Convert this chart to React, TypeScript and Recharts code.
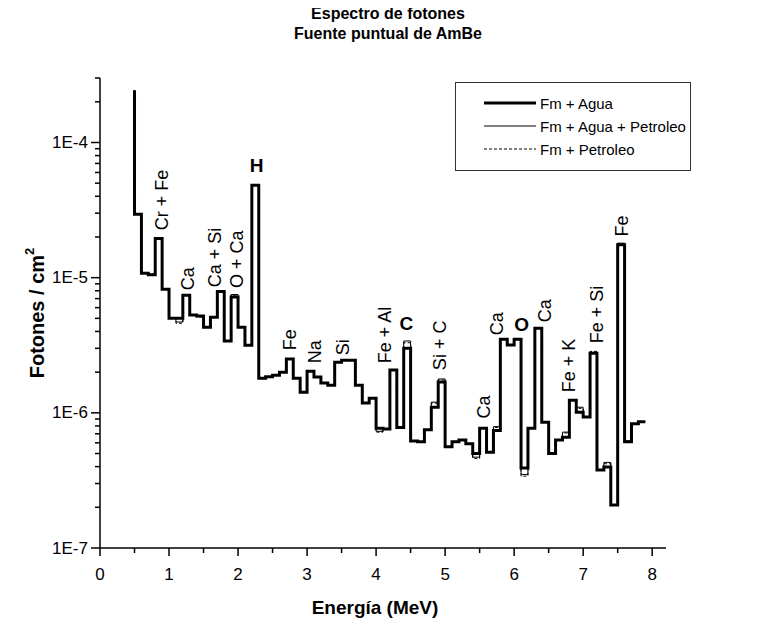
import React from "react";
import { LineChart, Line, XAxis, YAxis, Legend, ReferenceDot, Label } from "recharts";

const FONT = "'Liberation Sans', Arial, Helvetica, sans-serif";

// Bin upper edges (MeV); step plot drawn "stepBefore"
const energia = [0.5, 0.6, 0.7, 0.8, 0.9, 1.0, 1.1, 1.2, 1.3, 1.4, 1.5, 1.6, 1.7, 1.8, 1.9, 2.0, 2.1, 2.2, 2.3, 2.4, 2.5, 2.6, 2.7, 2.8, 2.9, 3.0, 3.1, 3.2, 3.3, 3.4, 3.5, 3.6, 3.7, 3.8, 3.9, 4.0, 4.1, 4.2, 4.3, 4.4, 4.5, 4.6, 4.7, 4.8, 4.9, 5.0, 5.1, 5.2, 5.3, 5.4, 5.5, 5.6, 5.7, 5.8, 5.9, 6.0, 6.1, 6.2, 6.3, 6.4, 6.5, 6.6, 6.7, 6.8, 6.9, 7.0, 7.1, 7.2, 7.3, 7.4, 7.5, 7.6, 7.7, 7.8, 7.9];

const fmAgua = [2.43e-4, 2.94e-5, 1.08e-5, 1.05e-5, 1.95e-5, 8.2e-6, 5.0e-6, 5.0e-6, 7.4e-6, 5.3e-6, 5.2e-6, 4.3e-6, 5.1e-6, 7.9e-6, 3.4e-6, 7.2e-6, 4.3e-6, 3.16e-6, 4.82e-5, 1.8e-6, 1.85e-6, 1.9e-6, 2.0e-6, 2.5e-6, 1.8e-6, 1.42e-6, 2.03e-6, 1.84e-6, 1.66e-6, 1.6e-6, 2.37e-6, 2.45e-6, 2.45e-6, 1.6e-6, 1.18e-6, 1.28e-6, 7.7e-7, 7.6e-7, 2.07e-6, 7.8e-7, 3.0e-6, 6.2e-7, 6.1e-7, 7.5e-7, 1.1e-6, 1.69e-6, 5.6e-7, 6.1e-7, 6.3e-7, 5.9e-7, 5.0e-7, 7.7e-7, 5.1e-7, 7.4e-7, 3.5e-6, 3.17e-6, 3.5e-6, 3.9e-7, 7.7e-7, 4.23e-6, 8.5e-7, 5.0e-7, 6.3e-7, 6.6e-7, 1.24e-6, 1.01e-6, 9.3e-7, 2.76e-6, 3.77e-7, 3.97e-7, 2.08e-7, 1.75e-5, 6.1e-7, 8.3e-7, 8.6e-7];

const fmAguaPetroleo = [2.43e-4, 2.94e-5, 1.08e-5, 1.06e-5, 1.95e-5, 8.2e-6, 5.0e-6, 4.7e-6, 7.4e-6, 5.3e-6, 5.2e-6, 4.3e-6, 5.1e-6, 7.9e-6, 3.4e-6, 7.5e-6, 4.3e-6, 3.16e-6, 4.82e-5, 1.8e-6, 1.85e-6, 1.9e-6, 2.0e-6, 2.5e-6, 1.8e-6, 1.42e-6, 2.03e-6, 1.84e-6, 1.66e-6, 1.6e-6, 2.37e-6, 2.45e-6, 2.45e-6, 1.6e-6, 1.18e-6, 1.28e-6, 7.3e-7, 7.6e-7, 2.07e-6, 7.8e-7, 3.4e-6, 6.2e-7, 6.1e-7, 7.5e-7, 1.2e-6, 1.78e-6, 5.6e-7, 6.1e-7, 6.3e-7, 5.9e-7, 4.7e-7, 7.7e-7, 5.1e-7, 7.9e-7, 3.5e-6, 3.17e-6, 3.5e-6, 3.5e-7, 7.7e-7, 4.23e-6, 8.5e-7, 5.0e-7, 6.3e-7, 7.2e-7, 1.24e-6, 1.1e-6, 9.3e-7, 2.8e-6, 3.77e-7, 4.3e-7, 2.08e-7, 1.8e-5, 6.2e-7, 8.3e-7, 8.6e-7];

const fmPetroleo = [2.43e-4, 2.94e-5, 1.08e-5, 1.05e-5, 1.95e-5, 8.2e-6, 5.0e-6, 4.6e-6, 7.4e-6, 5.3e-6, 5.1e-6, 4.3e-6, 5.1e-6, 7.9e-6, 3.4e-6, 7.4e-6, 4.3e-6, 3.16e-6, 4.82e-5, 1.8e-6, 1.85e-6, 1.9e-6, 2.0e-6, 2.5e-6, 1.8e-6, 1.42e-6, 2.03e-6, 1.84e-6, 1.66e-6, 1.6e-6, 2.37e-6, 2.45e-6, 2.45e-6, 1.6e-6, 1.18e-6, 1.28e-6, 7.2e-7, 7.6e-7, 2.07e-6, 7.8e-7, 3.3e-6, 6.2e-7, 6.1e-7, 7.5e-7, 1.18e-6, 1.75e-6, 5.6e-7, 6.1e-7, 6.3e-7, 5.9e-7, 4.6e-7, 7.7e-7, 5.1e-7, 7.8e-7, 3.5e-6, 3.17e-6, 3.5e-6, 3.4e-7, 7.7e-7, 4.23e-6, 8.5e-7, 5.0e-7, 6.3e-7, 7.1e-7, 1.24e-6, 1.08e-6, 9.3e-7, 2.85e-6, 3.77e-7, 4.2e-7, 2.08e-7, 1.78e-5, 6.1e-7, 8.3e-7, 8.6e-7];

const seriesNames = ["Fm + Agua", "Fm + Agua + Petroleo", "Fm + Petroleo"];

const xMajor = [0, 1, 2, 3, 4, 5, 6, 7, 8];
const xMinor = [0.5, 1.5, 2.5, 3.5, 4.5, 5.5, 6.5, 7.5];
const yMajor = [1e-7, 1e-6, 1e-5, 1e-4];
const yMajorLabels = ["1E-7", "1E-6", "1E-5", "1E-4"];
const yMinorMultipliers = [2, 3, 4, 5, 6, 7, 8, 9];

const annLabels = ["Cr + Fe", "Ca", "Ca + Si", "O + Ca", "H", "Fe", "Na", "Si", "Fe + Al", "C", "Si + C", "Ca", "Ca", "O", "Ca", "Fe + K", "Fe + Si", "Fe"];
const annE = [0.9, 1.27, 1.66, 1.98, 2.27, 2.75, 3.11, 3.52, 4.13, 4.44, 4.92, 5.57, 5.75, 6.11, 6.44, 6.8, 7.2, 7.56];
const annV = [2.24e-5, 8.07e-6, 8.5e-6, 8.4e-6, 6.78e-5, 2.9e-6, 2.33e-6, 2.67e-6, 2.33e-6, 4.6e-6, 2.07e-6, 9.1e-7, 3.75e-6, 4.5e-6, 4.68e-6, 1.42e-6, 3.27e-6, 2.02e-5];
const annBold = ["H", "C", "O"];

const data = energia.map((e, i) => ({
  e,
  agua: fmAgua[i],
  aguaPet: fmAguaPetroleo[i],
  pet: fmPetroleo[i],
}));

const yMinor: number[] = [];
for (let d = -7; d <= -4; d++) {
  for (const m of yMinorMultipliers) {
    const v = m * Math.pow(10, d);
    if (v <= 3.0001e-4) yMinor.push(v);
  }
}
const yTicks = [...yMajor, ...yMinor].sort((a, b) => a - b);
const xTicks = [...xMajor, ...xMinor].sort((a, b) => a - b);

const XTick = (props: any) => {
  const { x, y, payload } = props;
  const v = payload.value;
  const major = xMajor.includes(v);
  return (
    <g>
      <line x1={x} x2={x} y1={y} y2={y + (major ? 8 : 5)} stroke="#000" strokeWidth={1.5} />
      {major && (
        <text x={x} y={y + 26} textAnchor="middle" dominantBaseline="central" fontFamily={FONT} fontSize={17} fill="#000">
          {String(v)}
        </text>
      )}
    </g>
  );
};

const YTick = (props: any) => {
  const { x, y, payload } = props;
  const v = payload.value;
  const idx = yMajor.findIndex((m) => Math.abs(m - v) / m < 1e-6);
  const major = idx >= 0;
  return (
    <g>
      <line x1={x} x2={x - (major ? 9 : 5)} y1={y} y2={y} stroke="#000" strokeWidth={1.5} />
      {major && (
        <text x={x - 12} y={y} textAnchor="end" dominantBaseline="central" fontFamily={FONT} fontSize={17} fill="#000">
          {yMajorLabels[idx]}
        </text>
      )}
    </g>
  );
};

const makeAnn = (text: string) => (props: any) => {
  const vb = props.viewBox || {};
  const cx = (vb.x ?? 0) + (vb.width ?? 0) / 2;
  const cy = (vb.y ?? 0) + (vb.height ?? 0) / 2;
  if (annBold.includes(text)) {
    return (
      <text x={cx} y={cy} textAnchor="middle" dominantBaseline="central" fontFamily={FONT} fontSize={19} fontWeight="bold" fill="#000">
        {text}
      </text>
    );
  }
  return (
    <text x={cx} y={cy} transform={`rotate(-90, ${cx}, ${cy})`} textAnchor="start" dominantBaseline="central" fontFamily={FONT} fontSize={18} fill="#000">
      {text}
    </text>
  );
};

const legendStyles: Record<string, { w: number; dash?: string }> = {
  agua: { w: 3 },
  aguaPet: { w: 1 },
  pet: { w: 1, dash: "3 2" },
};

const renderLegend = (props: any) => {
  const payload = props.payload || [];
  const order = ["agua", "aguaPet", "pet"];
  const items = order.map((k) => payload.find((p: any) => p.dataKey === k)).filter(Boolean);
  return (
    <svg width={236} height={89} style={{ display: "block" }}>
      <rect x={0.5} y={0.5} width={235} height={88} fill="#fff" stroke="#333" strokeWidth={1} />
      {items.map((it: any, i: number) => {
        const st = legendStyles[it.dataKey];
        const yy = 21 + i * 23;
        return (
          <g key={it.dataKey}>
            <line x1={29} x2={81} y1={yy} y2={yy} stroke="#000" strokeWidth={st.w} strokeDasharray={st.dash} />
            <text x={85} y={yy} dominantBaseline="central" fontFamily={FONT} fontSize={15} fill="#000">
              {it.value}
            </text>
          </g>
        );
      })}
    </svg>
  );
};

export default function App() {
  return (
    <div style={{ position: "relative", width: 748, height: 614, fontFamily: FONT }}>
      <div
        style={{
          position: "absolute",
          left: 0,
          top: -4,
          width: 760,
          textAlign: "center",
          fontWeight: "bold",
          fontSize: 16,
          lineHeight: "20px",
          color: "#000",
          fontFamily: FONT,
        }}
      >
        <div>Espectro de fotones</div>
        <div>Fuente puntual de AmBe</div>
      </div>
      <LineChart width={748} height={614} data={data} margin={{ top: 70, right: 90, bottom: 24, left: 32 }}>
        <XAxis
          dataKey="e"
          type="number"
          domain={[0, 8.2]}
          allowDataOverflow
          ticks={xTicks}
          interval={0}
          tick={<XTick />}
          tickLine={false}
          tickSize={0}
          tickMargin={0}
          height={50}
          axisLine={{ stroke: "#000", strokeWidth: 1.5 }}
        >
          <Label
            content={(p: any) => {
              const vb = p.viewBox;
              return (
                <text x={vb.x + vb.width / 2 - 8} y={vb.y + 59} textAnchor="middle" dominantBaseline="central" fontFamily={FONT} fontSize={19} fontWeight="bold" fill="#000">
                  Energía (MeV)
                </text>
              );
            }}
          />
        </XAxis>
        <YAxis
          type="number"
          scale="log"
          domain={[1e-7, 3e-4]}
          allowDataOverflow
          ticks={yTicks}
          interval={0}
          tick={<YTick />}
          tickLine={false}
          tickSize={0}
          tickMargin={0}
          width={60}
          axisLine={{ stroke: "#000", strokeWidth: 1.5 }}
        >
          <Label
            content={(p: any) => {
              const vb = p.viewBox;
              const cx = vb.x - 3;
              const cy = vb.y + vb.height / 2;
              return (
                <text x={cx} y={cy} transform={`rotate(-90, ${cx}, ${cy})`} textAnchor="middle" dominantBaseline="central" fontFamily={FONT} fontSize={20} fontWeight="bold" fill="#000">
                  Fotones / cm<tspan dy={-8} fontSize={13}>2</tspan>
                </text>
              );
            }}
          />
        </YAxis>
        <Legend
          layout="vertical"
          align="center"
          verticalAlign="middle"
          wrapperStyle={{ position: "absolute", left: 447, top: 74, width: 236, height: 89 }}
          content={renderLegend}
        />
        <Line dataKey="pet" name={seriesNames[2]} type="stepBefore" stroke="#000" strokeWidth={1} strokeDasharray="3 2" dot={false} activeDot={false} isAnimationActive={false} />
        <Line dataKey="aguaPet" name={seriesNames[1]} type="stepBefore" stroke="#000" strokeWidth={1} dot={false} activeDot={false} isAnimationActive={false} />
        <Line dataKey="agua" name={seriesNames[0]} type="stepBefore" stroke="#000" strokeWidth={3} strokeLinejoin="miter" dot={false} activeDot={false} isAnimationActive={false} />
        {annLabels.map((t, i) => (
          <ReferenceDot key={i} x={annE[i]} y={annV[i]} r={1} fill="none" stroke="none" label={makeAnn(t)} />
        ))}
      </LineChart>
    </div>
  );
}
